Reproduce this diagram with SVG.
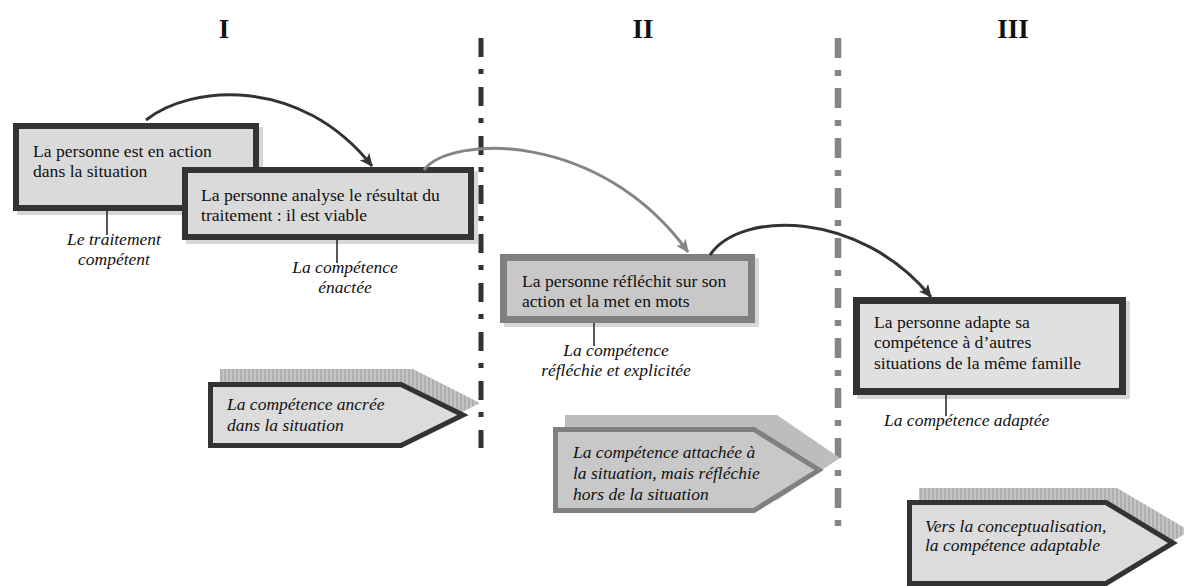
<svg xmlns="http://www.w3.org/2000/svg" width="1184" height="586" viewBox="0 0 1184 586">
<defs>
<pattern id="hatch" width="4" height="4" patternUnits="userSpaceOnUse">
<rect width="4" height="4" fill="#c4c4c4"/>
<line x1="1" y1="0" x2="1" y2="4" stroke="#9a9a9a" stroke-width="1"/>
</pattern>
<marker id="ahDark" markerWidth="14" markerHeight="12" refX="12" refY="6" orient="auto" markerUnits="userSpaceOnUse">
<path d="M0,0 L13,6 L0,12 L3,6 Z" fill="#333"/>
</marker>
<marker id="ahGray" markerWidth="14" markerHeight="12" refX="12" refY="6" orient="auto" markerUnits="userSpaceOnUse">
<path d="M0,0 L13,6 L0,12 L3,6 Z" fill="#858585"/>
</marker>
</defs>
<style>
.t{font-family:"Liberation Serif",serif;font-size:17.6px;fill:#111}
.i{font-family:"Liberation Serif",serif;font-size:17.5px;font-style:italic;fill:#111}
.h{font-family:"Liberation Serif",serif;font-size:27px;font-weight:bold;fill:#111;text-anchor:middle}
.c{text-anchor:middle}
.dk{fill:#dadada;stroke:#333;stroke-width:6}
.gr{fill:#c8c8c8;stroke:#808080;stroke-width:7}
.sh{fill:#bdbdbd;opacity:0.6}
.tick{stroke:#222;stroke-width:1.5}
</style>
<rect width="1184" height="586" fill="#fff"/>

<g id="headings">
<text class="h" x="224" y="38">I</text>
<text class="h" x="643" y="38">II</text>
<text class="h" x="1013" y="38">III</text>
</g>

<g id="separators">
<line x1="481" y1="38" x2="481" y2="448" stroke="#333" stroke-width="5" stroke-dasharray="19 12 5 13"/>
<line x1="838" y1="38" x2="838" y2="531" stroke="#858585" stroke-width="6.5" stroke-dasharray="20 12 6 12"/>
</g>

<g id="node-action">
<rect class="sh" x="17" y="127" width="246" height="88"/>
<rect class="dk" x="16" y="126" width="240" height="82"/>
<text class="t" x="33" y="157">La personne est en action</text>
<text class="t" x="33" y="177">dans la situation</text>
<line class="tick" x1="107" y1="211" x2="107" y2="235"/>
<text class="i c" x="114" y="245">Le traitement</text>
<text class="i c" x="114" y="265">compétent</text>
</g>

<g id="node-analyse">
<rect class="sh" x="186" y="171" width="292" height="73"/>
<rect class="dk" x="185" y="170" width="286" height="67"/>
<text class="t" x="201" y="201">La personne analyse le résultat du</text>
<text class="t" x="201" y="221">traitement : il est viable</text>
<line class="tick" x1="337" y1="240" x2="337" y2="263"/>
<text class="i c" x="345" y="273">La compétence</text>
<text class="i c" x="345" y="293">énactée</text>
</g>

<g id="node-reflechit">
<rect class="sh" x="504" y="258" width="255" height="69"/>
<rect class="gr" x="503.5" y="257.5" width="248" height="62"/>
<text class="t" x="522" y="287">La personne réfléchit sur son</text>
<text class="t" x="522" y="307">action et la met en mots</text>
<line class="tick" x1="594" y1="323" x2="594" y2="346"/>
<text class="i c" x="616" y="356">La compétence</text>
<text class="i c" x="616" y="376">réfléchie et explicitée</text>
</g>

<g id="node-adapte">
<rect class="sh" x="857" y="301" width="273" height="98"/>
<rect class="dk" x="856.5" y="300.5" width="266" height="91" style="fill:#e0e0e0;stroke-width:7"/>
<text class="t" x="874" y="328">La personne adapte sa</text>
<text class="t" x="874" y="348">compétence à d’autres</text>
<text class="t" x="874" y="369">situations de la même famille</text>
<line class="tick" x1="946" y1="395" x2="946" y2="416"/>
<text class="i" x="884" y="426">La compétence adaptée</text>
</g>

<g id="stage-ancree">
<polygon points="220,369 413,369 480,403 413,437 220,437" fill="url(#hatch)"/>
<polygon points="210.5,384.5 401,384.5 463,415 401,445.5 210.5,445.5" fill="#dcdcdc" stroke="#333" stroke-width="5"/>
<text class="i" x="227" y="410">La compétence ancrée</text>
<text class="i" x="227" y="431">dans la situation</text>
</g>

<g id="stage-attachee">
<polygon points="565,415 777,415 840,458 777,500 565,500" fill="#bdbdbd"/>
<polygon points="555.5,429.5 754,429.5 819,470 754,510.5 555.5,510.5" fill="#c8c8c8" stroke="#808080" stroke-width="5"/>
<text class="i" x="573" y="458">La compétence attachée à</text>
<text class="i" x="573" y="479">la situation, mais réfléchie</text>
<text class="i" x="573" y="500">hors de la situation</text>
</g>

<g id="stage-conceptualisation">
<polygon points="919,488 1117,488 1190,531 1117,574 919,574" fill="url(#hatch)"/>
<polygon points="909.5,502.5 1106,502.5 1173,543 1106,583.5 909.5,583.5" fill="#dcdcdc" stroke="#333" stroke-width="5"/>
<text class="i" x="925" y="532">Vers la conceptualisation,</text>
<text class="i" x="925" y="551">la compétence adaptable</text>
</g>

<g id="connectors" fill="none">
<path d="M146,120 C190,85 300,75 372,166" stroke="#333" stroke-width="3" marker-end="url(#ahDark)"/>
<path d="M424,170 C450,135 600,130 688,252" stroke="#858585" stroke-width="3" marker-end="url(#ahGray)"/>
<path d="M710,255 C740,210 860,210 931,297" stroke="#333" stroke-width="3" marker-end="url(#ahDark)"/>
</g>
</svg>
